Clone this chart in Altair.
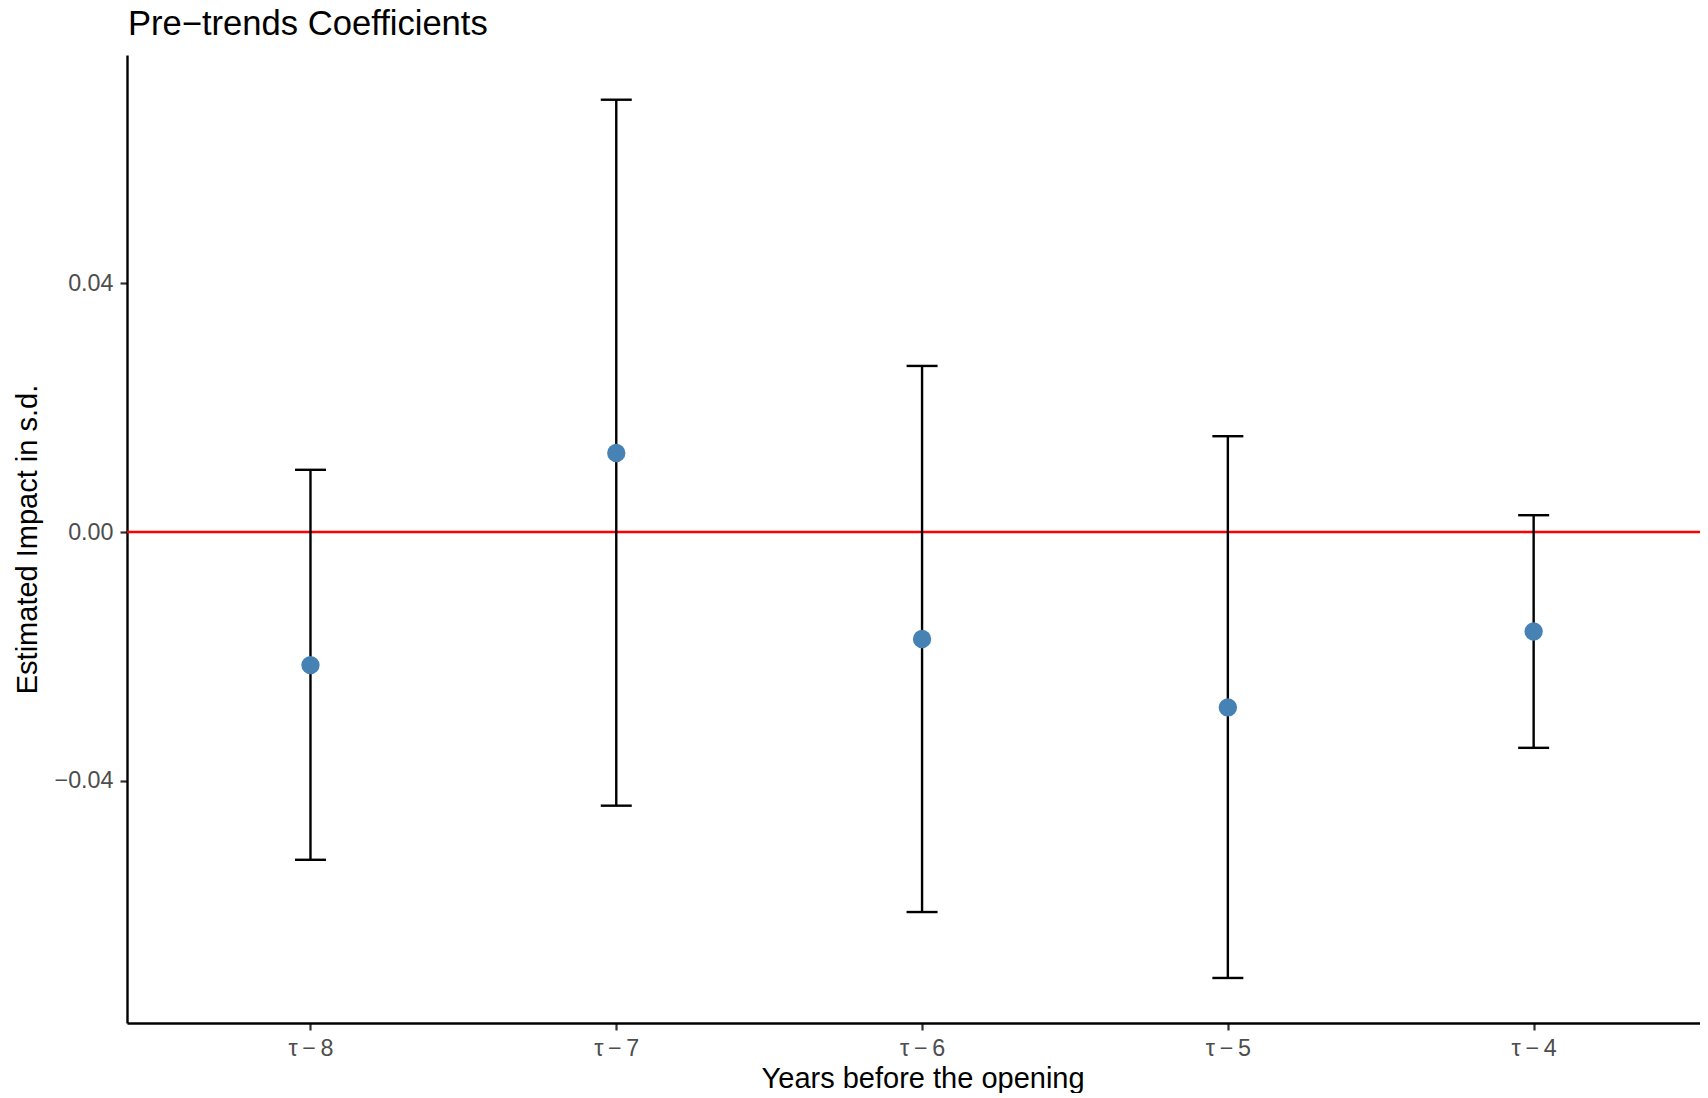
import altair as alt
import pandas as pd

categories = ["τ\u2009−\u20098", "τ\u2009−\u20097", "τ\u2009−\u20096", "τ\u2009−\u20095", "τ\u2009−\u20094"]
estimate = [-0.0214, 0.0127, -0.0172, -0.0282, -0.0160]
ci_low = [-0.0527, -0.0440, -0.0611, -0.0717, -0.0347]
ci_high = [0.0100, 0.0695, 0.0267, 0.0154, 0.0027]
y_ticks = [-0.04, 0.0, 0.04]
title_text = ["Pre−trends Coefficients"]

df = pd.DataFrame({
    "cat": categories,
    "pos": list(range(1, len(categories) + 1)),
    "est": estimate,
    "lo": ci_low,
    "hi": ci_high,
})
zero_df = pd.DataFrame({"y": [0.0]})
title_df = pd.DataFrame({"t": title_text})

FONT = "Liberation Sans"
label_expr = "[" + ",".join("'%s'" % c for c in categories) + "][datum.value - 1]"

xscale = alt.Scale(domain=[0.4, 5.544], nice=False, zero=False)
yscale = alt.Scale(domain=[-0.07894, 0.07669], nice=False, zero=False)

x_axis = alt.Axis(
    values=[1, 2, 3, 4, 5], labelExpr=label_expr, title="Years before the opening",
    grid=False, domainColor="black", domainWidth=2.4, tickColor="#333333", tickWidth=2.2,
    tickSize=7, labelColor="#4d4d4d", labelFontSize=23.3, labelFont=FONT,
    labelBaseline="alphabetic", labelPadding=25,
    titleFont=FONT, titleFontSize=29, titleFontWeight="normal", titleColor="black",
    titleX=795.6, titleY=64, titleBaseline="alphabetic", titleAlign="center",
)
y_axis = alt.Axis(
    values=y_ticks, format=".2f", title="Estimated Impact in s.d.",
    grid=False, domainColor="black", domainWidth=2.4, tickColor="#333333", tickWidth=2.2,
    tickSize=7, labelColor="#4d4d4d", labelFontSize=23.3, labelFont=FONT, labelPadding=7,
    titleFont=FONT, titleFontSize=29, titleFontWeight="normal", titleColor="black",
    titleX=-91, titleY=484, titleBaseline="alphabetic", titleAngle=270, titleAlign="center",
)

base = alt.Chart(df)

zero_line = alt.Chart(zero_df).mark_rule(color="#FF0000", strokeWidth=2.4).encode(
    y=alt.Y("y:Q", scale=yscale, axis=y_axis)
)

bars = base.mark_rule(color="black", strokeWidth=2.4).encode(
    x=alt.X("pos:Q", scale=xscale, axis=x_axis),
    y=alt.Y("lo:Q", scale=yscale, axis=y_axis),
    y2="hi:Q",
)

cap_lo = base.mark_tick(orient="horizontal", size=31, thickness=2.4, color="black", opacity=1).encode(
    x=alt.X("pos:Q", scale=xscale, axis=x_axis),
    y=alt.Y("lo:Q", scale=yscale, axis=y_axis),
)
cap_hi = base.mark_tick(orient="horizontal", size=31, thickness=2.4, color="black", opacity=1).encode(
    x=alt.X("pos:Q", scale=xscale, axis=x_axis),
    y=alt.Y("hi:Q", scale=yscale, axis=y_axis),
)

points = base.mark_circle(size=336, color="#4682B4", opacity=1).encode(
    x=alt.X("pos:Q", scale=xscale, axis=x_axis),
    y=alt.Y("est:Q", scale=yscale, axis=y_axis),
)

title_mark = alt.Chart(title_df).mark_text(
    align="left", baseline="alphabetic", fontSize=34.6, font=FONT, color="black"
).encode(
    text="t:N", x=alt.value(1), y=alt.value(-20)
)

chart = alt.layer(zero_line, bars, cap_lo, cap_hi, points, title_mark).properties(
    width=1573,
    height=968,
    background="white",
    autosize=alt.AutoSizeParams(type="none"),
    padding={"left": 119, "top": 47, "right": 0, "bottom": 70},
).configure_view(strokeWidth=0, strokeOpacity=0)

chart.save("out.html", embed_options={"renderer": "svg", "actions": False})
